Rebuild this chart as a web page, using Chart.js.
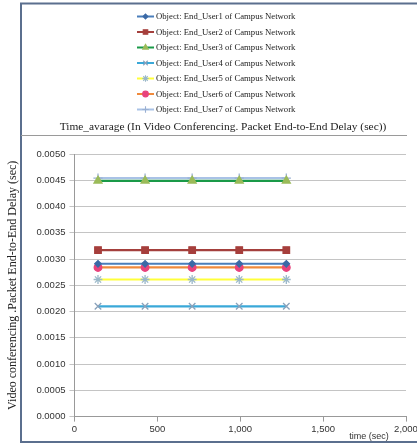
<!DOCTYPE html>
<html>
<head>
<meta charset="utf-8">
<script src="https://cdn.jsdelivr.net/npm/chart.js@4/dist/chart.umd.min.js"></script>
<style>
  html, body { margin: 0; padding: 0; background: #fff; overflow: hidden; }
  #wrap { position: relative; width: 425px; height: 445px; }
</style>
</head>
<body>
<div id="wrap"><canvas id="c" width="425" height="445"></canvas></div>
<script>
// Sample times (sec) shared by every series
const times = [142, 426, 710, 994, 1278];

// Series labels
const seriesNames = [
  'Object: End_User1 of Campus Network',
  'Object: End_User2 of Campus Network',
  'Object: End_User3 of Campus Network',
  'Object: End_User4 of Campus Network',
  'Object: End_User5 of Campus Network',
  'Object: End_User6 of Campus Network',
  'Object: End_User7 of Campus Network'
];

// Time-averaged packet end-to-end delay (sec) per end user
const user1 = [0.00291, 0.00291, 0.00291, 0.00291, 0.00291];
const user2 = [0.00317, 0.00317, 0.00317, 0.00317, 0.00317];
const user3 = [0.00449, 0.00449, 0.00449, 0.00449, 0.00449];
const user4 = [0.00210, 0.00210, 0.00210, 0.00210, 0.00210];
const user5 = [0.00261, 0.00261, 0.00261, 0.00261, 0.00261];
const user6 = [0.00284, 0.00284, 0.00284, 0.00284, 0.00284];
const user7 = [0.00454, 0.00454, 0.00454, 0.00454, 0.00454];

// Axis ticks
const xTicks = [0, 500, 1000, 1500, 2000];
const yTicks = [0, 0.0005, 0.001, 0.0015, 0.002, 0.0025, 0.003, 0.0035, 0.004, 0.0045, 0.005];

const chartTitle = 'Time_avarage (In Video Conferencing. Packet End-to-End Delay (sec))';
const xTitle = 'time (sec)';
const yTitle = 'Video conferencing .Packet End-to-End Delay (sec)';

const seriesValues = [user1, user2, user3, user4, user5, user6, user7];
const styles = [
  { line: '#4a7ebb', point: '#3b69a6', shape: 'rectRot', r: 3.2 },
  { line: '#a4403d', point: '#a63f3c', shape: 'rect', r: 4.6 },
  { line: '#1a9a48', point: '#9bbb59', shape: 'triangle', r: 4.6 },
  { line: '#3aa8d8', point: '#8aa2bb', shape: 'crossRot', r: 4.6 },
  { line: '#ffff3a', point: '#9ab8c9', shape: 'star', r: 4.4 },
  { line: '#f08a3c', point: '#e8437c', shape: 'circle', r: 3.8 },
  { line: '#a9c2e6', point: '#9ab0d2', shape: 'cross', r: 4.6 }
];

const datasets = seriesValues.map((vals, i) => ({
  label: seriesNames[i],
  data: vals.map((v, j) => ({ x: times[j], y: v })),
  borderColor: styles[i].line,
  backgroundColor: styles[i].point,
  pointBorderColor: styles[i].point,
  pointBackgroundColor: styles[i].point,
  pointStyle: styles[i].shape,
  pointRadius: styles[i].r,
  pointBorderWidth: 1.3,
  borderWidth: 2.2,
  tension: 0
}));

// Frame, legend column, title rule and x-axis caption
const decorations = {
  id: 'decorations',
  afterDraw(chart) {
    const ctx = chart.ctx;
    const helpers = Chart.helpers;
    ctx.save();
    // outer frame
    ctx.strokeStyle = '#5b6f8e';
    ctx.lineWidth = 2;
    ctx.beginPath();
    ctx.moveTo(425, 3.5);
    ctx.lineTo(21, 3.5);
    ctx.lineTo(21, 442);
    ctx.lineTo(425, 442);
    ctx.stroke();

    // legend, one entry per row
    ctx.font = '8.7px "Liberation Serif", "Times New Roman", serif';
    ctx.textBaseline = 'middle';
    ctx.textAlign = 'left';
    chart.data.datasets.forEach((ds, i) => {
      const y = 16.5 + i * 15.5;
      ctx.strokeStyle = ds.borderColor;
      ctx.lineWidth = 2;
      ctx.beginPath();
      ctx.moveTo(137, y);
      ctx.lineTo(154, y);
      ctx.stroke();
      ctx.strokeStyle = ds.pointBorderColor;
      ctx.fillStyle = ds.pointBackgroundColor;
      ctx.lineWidth = 1.1;
      helpers.drawPoint(ctx, {
        pointStyle: ds.pointStyle,
        radius: Math.min(ds.pointRadius * 0.75, 3.2),
        borderWidth: 1.1,
        rotation: 0
      }, 145.5, y);
      ctx.fillStyle = '#222';
      ctx.fillText(ds.label, 156, y + 0.5);
    });

    // chart title and rule beneath it
    ctx.font = '11.4px "Liberation Serif", "Times New Roman", serif';
    ctx.fillStyle = '#222';
    ctx.textAlign = 'center';
    ctx.fillText(chartTitle, 223, 127);
    ctx.strokeStyle = '#9a9a9a';
    ctx.lineWidth = 1;
    ctx.beginPath();
    ctx.moveTo(21, 135.5);
    ctx.lineTo(407, 135.5);
    ctx.stroke();

    // x-axis caption
    ctx.font = '9px "Liberation Sans", Arial, sans-serif';
    ctx.fillStyle = '#333';
    ctx.fillText(xTitle, 369, 437);
    ctx.restore();
  }
};

new Chart(document.getElementById('c'), {
  type: 'line',
  data: { datasets },
  options: {
    responsive: false,
    animation: false,
    layout: { padding: { top: 154, left: 6, right: 19, bottom: 8 } },
    plugins: {
      legend: { display: false },
      title: { display: false },
      tooltip: { enabled: false }
    },
    scales: {
      x: {
        type: 'linear',
        min: 0,
        max: 2000,
        afterBuildTicks(scale) { scale.ticks = xTicks.map(v => ({ value: v })); },
        ticks: {
          callback: v => v.toLocaleString('en-US'),
          font: { family: '"Liberation Sans", Arial, sans-serif', size: 9.5 },
          color: '#333',
          padding: 2,
          maxRotation: 0,
          autoSkip: false
        },
        grid: { drawOnChartArea: false, drawTicks: true, tickLength: 5, color: '#999' },
        border: { color: '#999', width: 1 }
      },
      y: {
        min: 0,
        max: 0.005,
        afterBuildTicks(scale) { scale.ticks = yTicks.map(v => ({ value: v })); },
        ticks: {
          callback: v => v.toFixed(4),
          font: { family: '"Liberation Sans", Arial, sans-serif', size: 9.5 },
          color: '#333',
          padding: 4
        },
        grid: { color: '#c4c4c4', tickLength: 5, lineWidth: 1 },
        border: { color: '#999', width: 1 },
        title: {
          display: true,
          text: yTitle,
          font: { family: '"Liberation Serif", "Times New Roman", serif', size: 12 },
          color: '#222',
          padding: { top: 0, bottom: 12 }
        }
      }
    }
  },
  plugins: [decorations]
});
</script>
</body>
</html>
